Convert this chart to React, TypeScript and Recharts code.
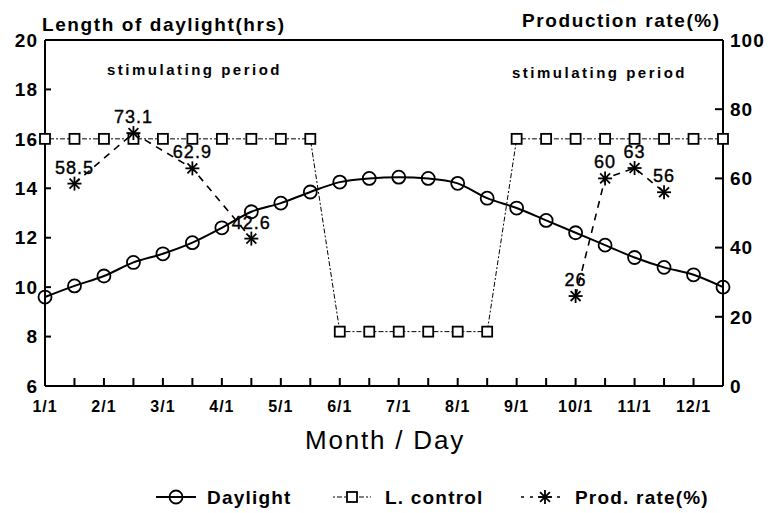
import React from 'react'
import { LineChart, Line, XAxis, YAxis, ReferenceLine, LabelList } from 'recharts'

const dates = [
  '1/1', '1/15', '2/1', '2/15', '3/1', '3/15', '4/1', '4/15', '5/1', '5/15', '6/1', '6/15',
  '7/1', '7/15', '8/1', '8/15', '9/1', '9/15', '10/1', '10/15', '11/1', '11/15', '12/1', '12/15',
]
const daylight = [
  9.6, 10.05, 10.45, 11.0, 11.35, 11.8, 12.4, 13.05, 13.4, 13.85, 14.25, 14.4,
  14.45, 14.4, 14.2, 13.6, 13.2, 12.7, 12.2, 11.7, 11.2, 10.8, 10.5, 10.0,
]
const lightControl = [
  16, 16, 16, 16, 16, 16, 16, 16, 16, 16, 8.2, 8.2,
  8.2, 8.2, 8.2, 8.2, 16, 16, 16, 16, 16, 16, 16, 16,
]
// production rate, spring and autumn stimulating periods
const prodSpring = [null, 58.5, null, 73.1, null, 62.9, null, 42.6]
const prodAutumn: Record<number, number> = { 18: 26, 19: 60, 20: 63, 21: 56 }

const leftTicks = [6, 8, 10, 12, 14, 16, 18, 20]
const rightTicks = [0, 20, 40, 60, 80, 100]

const data = dates.map((date, i) => ({
  date,
  daylight: daylight[i],
  control: lightControl[i],
  prodA: i < prodSpring.length ? prodSpring[i] : null,
  prodB: prodAutumn[i] ?? null,
}))

const FONT = '"Liberation Sans", Arial, sans-serif'

const CircleDot = (p: any) => (
  <circle cx={p.cx} cy={p.cy} r={6.5} fill="none" stroke="#000" strokeWidth={1.8} />
)
const SquareDot = (p: any) => (
  <rect x={p.cx - 5} y={p.cy - 5} width={10} height={10} fill="#fff" stroke="#000" strokeWidth={1.8} />
)
const StarDot = (p: any) => {
  if (p.value == null || p.cy == null) return null
  const r = 7
  const d = r * 0.707
  return (
    <g stroke="#000" strokeWidth={1.8}>
      <line x1={p.cx - r} y1={p.cy} x2={p.cx + r} y2={p.cy} />
      <line x1={p.cx} y1={p.cy - r} x2={p.cx} y2={p.cy + r} />
      <line x1={p.cx - d} y1={p.cy - d} x2={p.cx + d} y2={p.cy + d} />
      <line x1={p.cx - d} y1={p.cy + d} x2={p.cx + d} y2={p.cy - d} />
    </g>
  )
}

const valueLabel = (p: any) => {
  if (p.value == null) return null
  return (
    <text x={p.x} y={p.y - 10} textAnchor="middle" fontFamily={FONT} fontSize={18} letterSpacing={1} fill="#000" stroke="#000" strokeWidth={0.4}>
      {p.value}
    </text>
  )
}

const textStyle: React.CSSProperties = {
  position: 'absolute',
  fontFamily: FONT,
  fontWeight: 'bold',
  color: '#000',
  whiteSpace: 'nowrap',
  lineHeight: 1,
}

export default function App() {
  return (
    <div style={{ position: 'absolute', left: 0, top: 0, width: 775, height: 513, background: '#fff' }}>
      <LineChart width={775} height={513} data={data} margin={{ top: 40, right: 0, bottom: 97, left: 0 }}>
        <XAxis
          dataKey="date"
          interval={0}
          stroke="#000"
          strokeWidth={2}
          height={30}
          tickSize={-8}
          tickMargin={23}
          tickFormatter={(v: string) => (v.endsWith('/1') ? v : '')}
          tick={{ fontFamily: FONT, fontSize: 16, fontWeight: 'bold', fill: '#000', letterSpacing: 1 }}
        />
        <YAxis
          yAxisId="left"
          domain={[6, 20]}
          ticks={leftTicks}
          width={45}
          stroke="#000"
          strokeWidth={2}
          tickSize={-6}
          tickMargin={13}
          tick={{ fontFamily: FONT, fontSize: 19, fontWeight: 'bold', fill: '#000', letterSpacing: 1 }}
        />
        <YAxis
          yAxisId="right"
          orientation="right"
          domain={[0, 100]}
          ticks={rightTicks}
          width={52}
          stroke="#000"
          strokeWidth={2}
          tickSize={-8}
          tickMargin={15}
          tick={{ fontFamily: FONT, fontSize: 19, fontWeight: 'bold', fill: '#000', letterSpacing: 1 }}
        />
        <ReferenceLine yAxisId="left" y={20} stroke="#000" strokeWidth={2} />
        <Line
          yAxisId="left"
          type="linear"
          dataKey="control"
          stroke="#000"
          strokeWidth={1}
          strokeDasharray="2 2 5 2"
          dot={<SquareDot />}
          isAnimationActive={false}
        />
        <Line
          yAxisId="left"
          type="monotone"
          dataKey="daylight"
          stroke="#000"
          strokeWidth={2}
          dot={<CircleDot />}
          isAnimationActive={false}
        />
        <Line
          yAxisId="right"
          type="linear"
          dataKey="prodA"
          stroke="#000"
          strokeWidth={1.6}
          strokeDasharray="7 6"
          connectNulls
          dot={<StarDot />}
          isAnimationActive={false}
        >
          <LabelList dataKey="prodA" content={valueLabel} />
        </Line>
        <Line
          yAxisId="right"
          type="linear"
          dataKey="prodB"
          stroke="#000"
          strokeWidth={1.6}
          strokeDasharray="7 6"
          connectNulls
          dot={<StarDot />}
          isAnimationActive={false}
        >
          <LabelList dataKey="prodB" content={valueLabel} />
        </Line>
      </LineChart>

      <div style={{ ...textStyle, left: 42, top: 15, fontSize: 19, letterSpacing: 1.6 }}>Length of daylight(hrs)</div>
      <div style={{ ...textStyle, left: 522, top: 11, fontSize: 19, letterSpacing: 1.6 }}>Production rate(%)</div>
      <div style={{ ...textStyle, left: 107, top: 62, fontSize: 15, letterSpacing: 2.5 }}>stimulating period</div>
      <div style={{ ...textStyle, left: 512, top: 65, fontSize: 15, letterSpacing: 2.5 }}>stimulating period</div>
      <div style={{ ...textStyle, left: 305, top: 427, fontSize: 26, fontWeight: 'normal', letterSpacing: 1.8 }}>
        Month / Day
      </div>

      <svg style={{ position: 'absolute', left: 156, top: 487 }} width={42} height={20}>
        <line x1={0} y1={10} x2={40} y2={10} stroke="#000" strokeWidth={2} />
        <circle cx={20} cy={10} r={6.5} fill="none" stroke="#000" strokeWidth={1.8} />
      </svg>
      <div style={{ ...textStyle, left: 207, top: 488, fontSize: 19, letterSpacing: 1.2 }}>Daylight</div>
      <svg style={{ position: 'absolute', left: 333, top: 487 }} width={40} height={20}>
        <line x1={0} y1={10} x2={38} y2={10} stroke="#000" strokeWidth={1} strokeDasharray="2 2 5 2" />
        <rect x={14} y={5} width={10} height={10} fill="#fff" stroke="#000" strokeWidth={1.8} />
      </svg>
      <div style={{ ...textStyle, left: 385, top: 488, fontSize: 19, letterSpacing: 1.2 }}>L. control</div>
      <svg style={{ position: 'absolute', left: 521, top: 487 }} width={42} height={20}>
        <line x1={0} y1={10} x2={40} y2={10} stroke="#000" strokeWidth={1.6} strokeDasharray="3 6" />
        <StarDot cx={24} cy={10} value={1} />
      </svg>
      <div style={{ ...textStyle, left: 575, top: 488, fontSize: 19, letterSpacing: 1.2 }}>Prod. rate(%)</div>
    </div>
  )
}
